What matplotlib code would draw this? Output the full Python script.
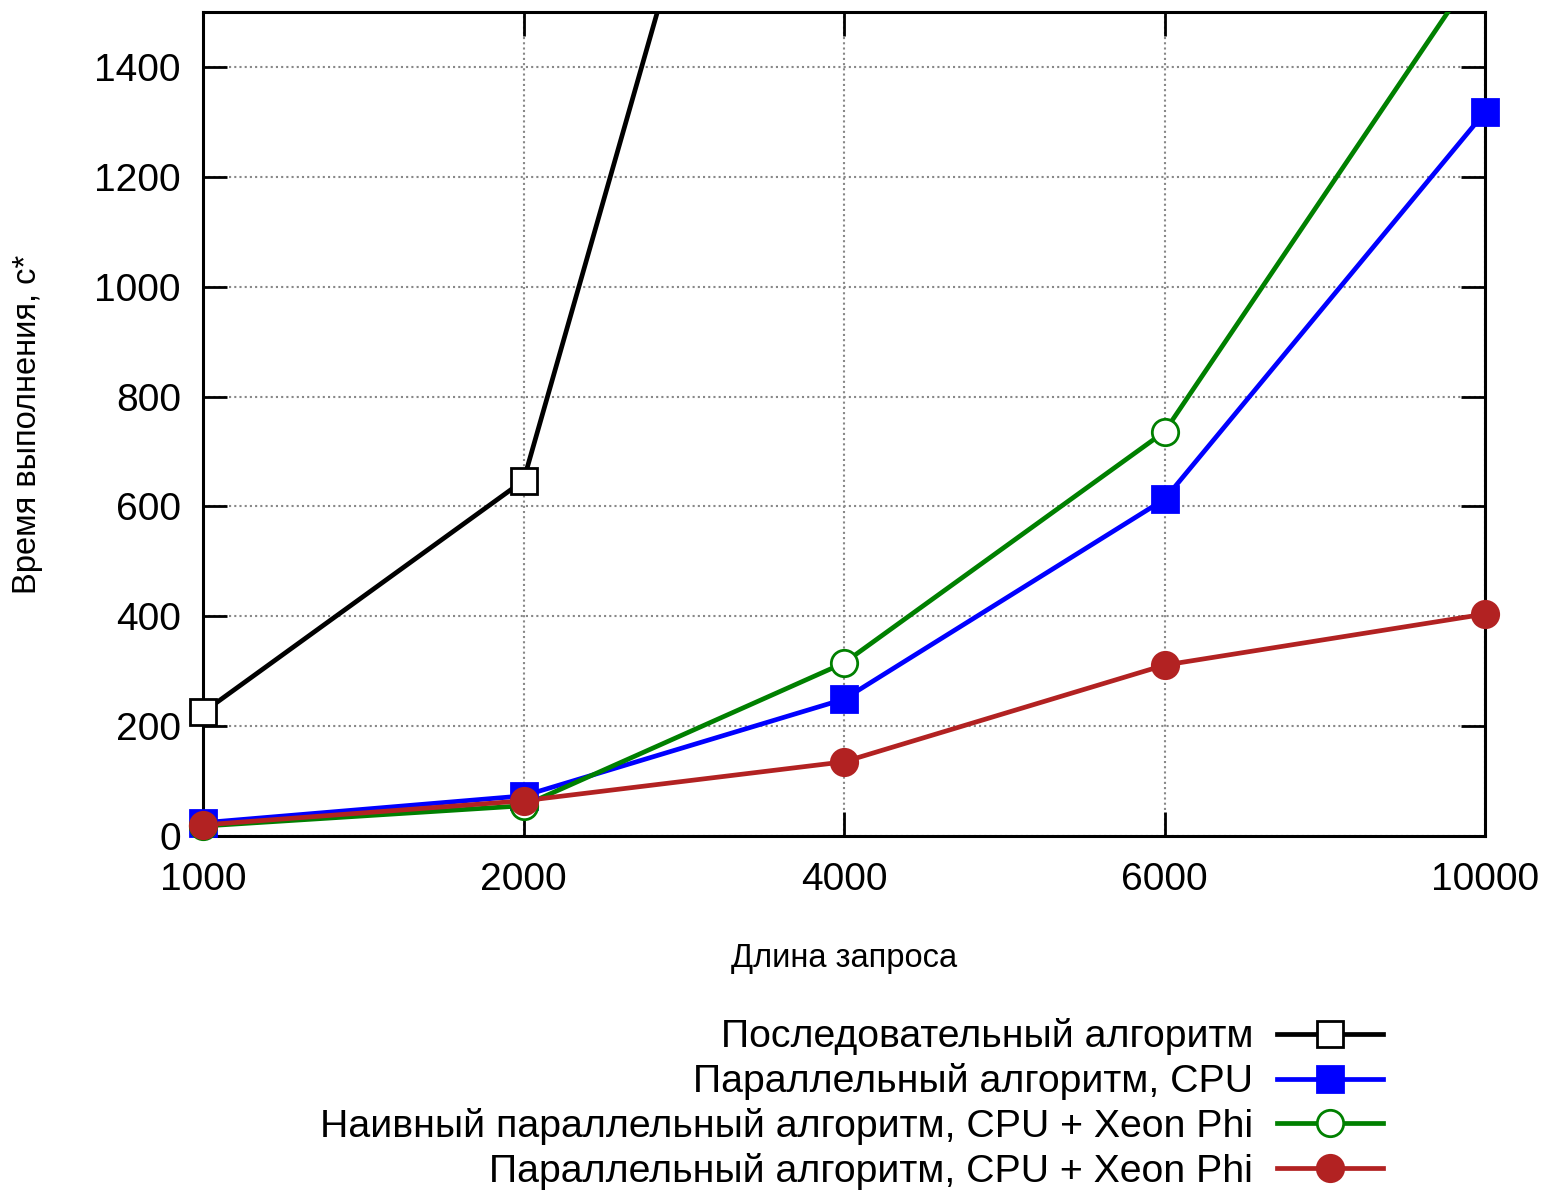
import numpy as np
import matplotlib
matplotlib.use("Agg")
import matplotlib.pyplot as plt

plt.rcParams['font.family'] = ['Liberation Sans', 'DejaVu Sans']

# query lengths (equally spaced categories)
lengths = ["1000", "2000", "4000", "6000", "10000"]

seq = [225, 647, 2690]                   # sequential, leaves the chart after 2000
par_cpu = [24, 73, 249, 613, 1318]
naive_phi = [18, 55, 315, 736, 1600]
par_phi = [20, 64, 135, 311, 404]

labels = ["Последовательный алгоритм",
          "Параллельный алгоритм, CPU",
          "Наивный параллельный алгоритм, CPU + Xeon Phi",
          "Параллельный алгоритм, CPU + Xeon Phi"]

YMAX = 1500

fig = plt.figure(figsize=(15.45, 11.92), dpi=100)
ax = fig.add_axes([0.1314, 0.2987, 0.9612 - 0.1314, 0.9899 - 0.2987])

x = np.arange(len(lengths))

series = [
    (seq, 'black', 's', 'white'),
    (par_cpu, 'blue', 's', 'blue'),
    (naive_phi, 'green', 'o', 'white'),
    (par_phi, '#b22222', 'o', '#b22222'),
]

LW = 3.4
handles = []
for (vals, col, mk, fc), lab in zip(series, labels):
    xs = x[:len(vals)]
    vals = np.array(vals, dtype=float)
    ax.plot(xs, vals, color=col, lw=LW, zorder=3)
    vis = np.where(vals <= YMAX, vals, np.nan)
    ms = 18.5 if mk == 's' else 19
    ax.plot(xs, vis, ls='none', marker=mk, ms=ms,
            mfc=fc, mec=col, mew=2.0, clip_on=False, zorder=4)
    h, = ax.plot([], [], color=col, lw=LW, marker=mk,
                 ms=ms, mfc=fc, mec=col, mew=2.0)
    handles.append(h)

ax.set_xlim(0, len(lengths) - 1)
ax.set_ylim(0, YMAX)
ax.set_xticks(x)
ax.set_xticklabels(lengths)
ax.set_yticks(np.arange(0, 1401, 200))

ax.grid(True, color='#888888', ls=(0, (1, 1.5)), lw=1.5)
ax.set_axisbelow(True)
for sp in ax.spines.values():
    sp.set_linewidth(2.2)

ax.tick_params(direction='in', length=17, width=2.0, labelsize=28,
               top=True, right=True)
ax.tick_params(axis='x', pad=19)
ax.tick_params(axis='y', pad=16)

ax.set_xlabel("Длина запроса", fontsize=23.5, labelpad=32)
ax.set_ylabel("Время выполнения, с*", fontsize=23.5, labelpad=37)

fig.legend(handles, labels, loc='lower right',
           bbox_to_anchor=(1385 / 1545, 0.0), frameon=False,
           fontsize=28.3, markerfirst=False, handlelength=2.7,
           handletextpad=0.6, labelspacing=0.2, borderaxespad=0.05,
           borderpad=0.0)

fig.savefig("out.png", dpi=100)
